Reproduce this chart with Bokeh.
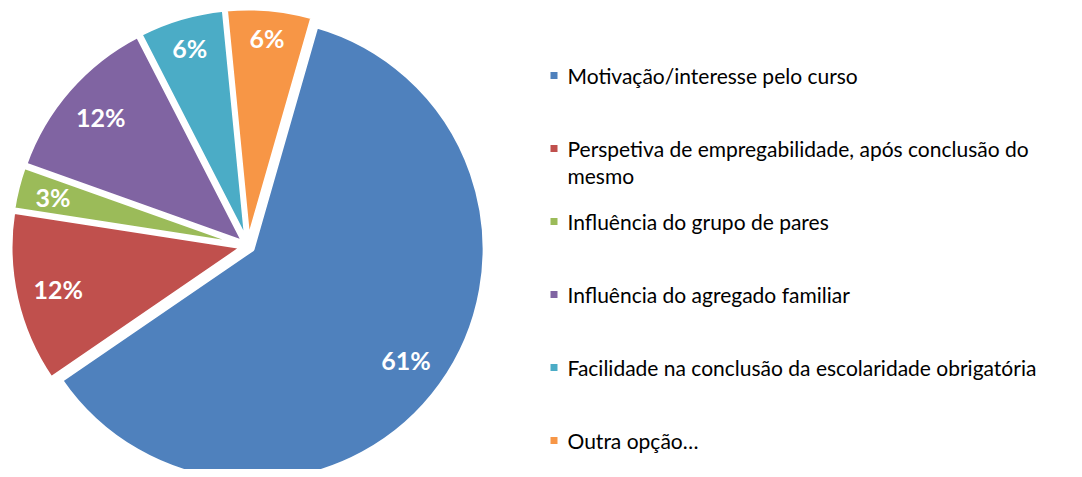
import math
import textwrap
from bokeh.plotting import figure
from bokeh.models import Range1d, ColumnDataSource
from bokeh.embed import file_html
from bokeh.resources import INLINE
from bokeh.core.properties import value

# ---------------- data ----------------
categories = [
    "Motivação/interesse pelo curso",
    "Perspetiva de empregabilidade, após conclusão do mesmo",
    "Influência do grupo de pares",
    "Influência do agregado familiar",
    "Facilidade na conclusão da escolaridade obrigatória",
    "Outra opção…",
]
percent = [61, 12, 3, 12, 6, 6]
colors = ["#4F81BD", "#C0504D", "#9BBB59", "#8064A2", "#4BACC6", "#F79646"]

# ---------------- layout / style ----------------
W, H = 1074, 469
OFF_X, OFF_Y = 0, 469     # picture pixel -> data: x = sx, y = 469 - sy
FIRST_ANGLE = 16.0        # degrees clockwise from 12 o'clock
CX, CY = 247.5 - OFF_X, OFF_Y - 245.5
RADIUS = 232.0
EXPLODE = 5.6
BORDER = 4
LABEL_R = 215.0
FONT = "Lato"

p = figure(width=W, height=H, x_range=Range1d(0, W), y_range=Range1d(0, H),
           output_backend="svg", toolbar_location=None, min_border=0,
           tools="")
p.axis.visible = False
p.grid.visible = False
p.outline_line_color = None
p.background_fill_color = "white"
p.border_fill_color = "white"

total = float(sum(percent))
xs, ys, sa, ea = [], [], [], []
lx, ly, labels = [], [], []
cum = 0.0
for v in percent:
    t0 = FIRST_ANGLE + 360.0 * cum / total
    t1 = t0 + 360.0 * v / total
    tm = 0.5 * (t0 + t1)
    dx, dy = math.sin(math.radians(tm)), math.cos(math.radians(tm))
    cx, cy = CX + EXPLODE * dx, CY + EXPLODE * dy
    xs.append(cx); ys.append(cy)
    sa.append(math.radians(90 - t0)); ea.append(math.radians(90 - t1))
    txt = f"{v}%"
    hw = (14 * len(txt) + 7) / 2.0
    hh = 10.0
    d = LABEL_R - (hw * abs(dx) + hh * abs(dy))
    lx.append(cx + d * dx); ly.append(cy + d * dy); labels.append(txt)
    cum += v

src = ColumnDataSource(dict(x=xs, y=ys, start=sa, end=ea, color=colors))
p.wedge(x="x", y="y", radius=RADIUS, start_angle="start", end_angle="end",
        direction="clock", fill_color="color", line_color="white",
        line_width=BORDER, source=src)

p.text(x=lx, y=ly, text=labels, text_color="white", text_font=value(FONT),
       text_font_style="bold", text_font_size="25px", text_align="center",
       text_baseline="middle")

# ---------------- legend ----------------
LEG_SQ_X = 553.5 - OFF_X
LEG_TX_X = 567 - OFF_X
LEG_Y0 = 75
LEG_STEP = 73
leg_text = []
for c in categories:
    leg_text.append("\n".join(textwrap.wrap(c, 52)))
sq_y = [OFF_Y - (LEG_Y0 + LEG_STEP * i) for i in range(len(categories))]
p.scatter(x=[LEG_SQ_X] * len(categories), y=sq_y, marker="square", size=7,
          fill_color=colors, line_color=None)
p.text(x=[LEG_TX_X] * len(categories), y=[y + 13 for y in sq_y], text=leg_text,
       text_color="#000000", text_font=value(FONT), text_font_size="21px",
       text_align="left", text_baseline="top", text_line_height=1.1)

open("out.html", "w").write(file_html(p, INLINE))
